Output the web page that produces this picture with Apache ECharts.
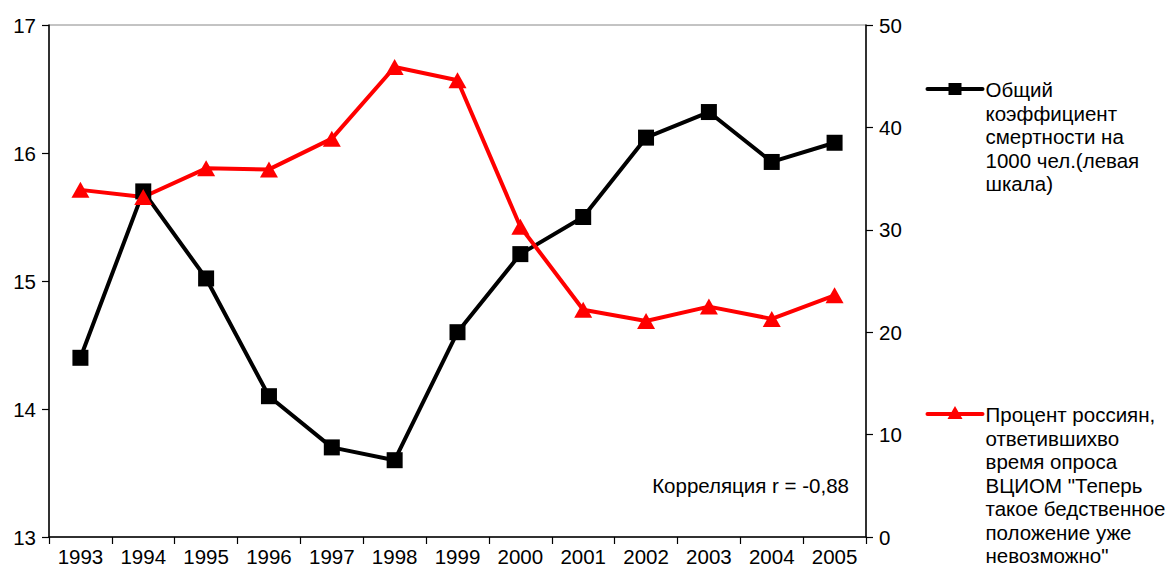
<!DOCTYPE html>
<html>
<head>
<meta charset="utf-8">
<style>
  html, body { margin: 0; padding: 0; background: #fff; }
  #chart { width: 1172px; height: 576px; }
</style>
<script src="https://cdn.jsdelivr.net/npm/echarts@6/dist/echarts.min.js"></script>
</head>
<body>
<div id="chart"></div>
<script>
// годы
const years = ['1993', '1994', '1995', '1996', '1997', '1998', '1999',
  '2000', '2001', '2002', '2003', '2004', '2005']
// общий коэффициент смертности на 1000 чел. (левая шкала)
const mortality = [14.4, 15.7, 15.02, 14.1, 13.7, 13.6, 14.6, 15.21, 15.5, 16.12, 16.32, 15.93, 16.08]
// процент россиян (правая шкала)
const poverty = [33.9, 33.2, 36.0, 35.9, 38.9, 45.9, 44.6, 30.3, 22.2, 21.1, 22.5, 21.3, 23.6]

const nameMort = 'Общий\nкоэффициент\nсмертности на\n1000 чел.(левая\nшкала)'
const namePov = 'Процент россиян,\nответившихво\nвремя опроса\nВЦИОМ "Теперь\nтакое бедственное\nположение уже\nневозможно"'
const corrText = 'Корреляция r = -0,88'

const font = 'Arial, "Liberation Sans", sans-serif'
const chart = echarts.init(document.getElementById('chart'), null, { renderer: 'svg' })

function legendItem (y, color, marker, text) {
  return {
    type: 'group',
    left: 925,
    top: y - 10,
    children: [
      { type: 'line', shape: { x1: 0, y1: 10, x2: 55, y2: 10 },
        style: { stroke: color, lineWidth: 4, lineCap: 'round' } },
      marker,
      { type: 'text', x: 58, y: -1,
        style: { text: text, fill: '#000', font: '20.5px ' + font, lineHeight: 23.5,
          textVerticalAlign: 'top' } }
    ]
  }
}

const option = {
  backgroundColor: '#fff',
  animation: false,
  grid: {
    left: 49, right: 306, top: 25, bottom: 39,
    show: true, borderColor: '#888', borderWidth: 1
  },
  xAxis: {
    type: 'category',
    data: years,
    boundaryGap: true,
    axisLine: { lineStyle: { color: '#000', width: 1.5 } },
    axisTick: { show: true, inside: false, length: 7, lineStyle: { color: '#000', width: 1.2 } },
    axisLabel: { color: '#000', fontSize: 20.5, fontFamily: font, margin: 9, interval: 0 },
    splitLine: { show: false }
  },
  yAxis: [
    {
      type: 'value', min: 13, max: 17, interval: 1, position: 'left',
      axisLine: { show: true, lineStyle: { color: '#000', width: 1.5 } },
      axisTick: { show: true, length: 7, lineStyle: { color: '#000', width: 1.2 } },
      axisLabel: { color: '#000', fontSize: 20.5, fontFamily: font, margin: 13 },
      splitLine: { show: false }
    },
    {
      type: 'value', min: 0, max: 50, interval: 10, position: 'right',
      axisLine: { show: true, lineStyle: { color: '#000', width: 1.5 } },
      axisTick: { show: true, length: 7, lineStyle: { color: '#000', width: 1.2 } },
      axisLabel: { color: '#000', fontSize: 20.5, fontFamily: font, margin: 13 },
      splitLine: { show: false }
    }
  ],
  series: [
    {
      name: nameMort,
      type: 'line',
      yAxisIndex: 0,
      data: mortality,
      symbol: 'rect',
      symbolSize: 16,
      lineStyle: { color: '#000', width: 4 },
      itemStyle: { color: '#000' }
    },
    {
      name: namePov,
      type: 'line',
      yAxisIndex: 1,
      data: poverty,
      symbol: 'triangle',
      symbolSize: [18, 16],
      lineStyle: { color: '#ff0000', width: 4 },
      itemStyle: { color: '#ff0000' }
    }
  ],
  graphic: [
    legendItem(88, '#000',
      { type: 'rect', shape: { x: 21, y: 4, width: 13, height: 12 }, style: { fill: '#000' } },
      nameMort),
    legendItem(413, '#ff0000',
      { type: 'polygon', shape: { points: [[27.5, 2], [35, 15], [20, 15]] }, style: { fill: '#ff0000' } },
      namePov),
    {
      type: 'text',
      right: 1172 - 849,
      top: 475,
      style: { text: corrText, fill: '#000', font: '20.5px ' + font }
    }
  ]
}

chart.setOption(option)
</script>
</body>
</html>
